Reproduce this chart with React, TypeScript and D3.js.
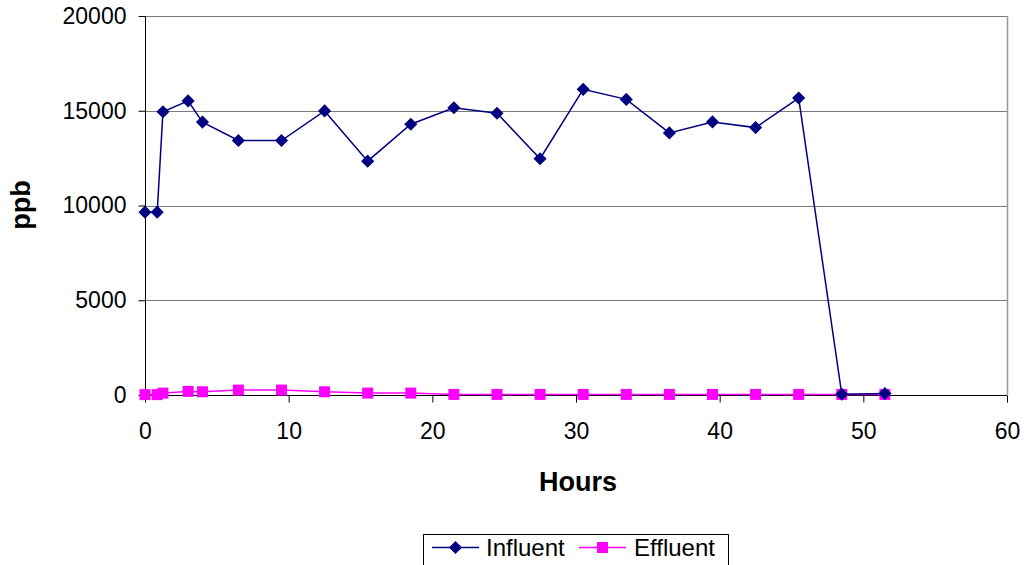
import React, { useRef, useEffect } from 'react';
import * as d3 from 'd3';

const hours = [0, 0.85, 1.25, 3, 4, 6.5, 9.5, 12.5, 15.5, 18.5, 21.5, 24.5, 27.5, 30.5, 33.5, 36.5, 39.5, 42.5, 45.5, 48.5, 51.5];
const influent = [9650, 9650, 14950, 15520, 14400, 13430, 13430, 14990, 12340, 14290, 15160, 14870, 12470, 16130, 15600, 13830, 14410, 14110, 15670, 40, 80];
const effluent = [20, 20, 100, 190, 170, 260, 260, 170, 100, 100, 30, 30, 30, 30, 30, 30, 30, 30, 30, 30, 30];
const xTicks = [0, 10, 20, 30, 40, 50, 60];
const yTicks = [0, 5000, 10000, 15000, 20000];

const FONT = '"Liberation Sans", Arial, sans-serif';

const App: React.FC = () => {
  const svgRef = useRef<SVGSVGElement>(null);

  useEffect(() => {
    const svg = d3.select(svgRef.current);
    svg.selectAll('*').remove();

    const left = 145;
    const right = 1007;
    const top = 16;
    const bottom = 395;

    const x = d3.scaleLinear().domain([0, 60]).range([left, right]);
    const y = d3.scaleLinear().domain([0, 20000]).range([bottom, top]);

    // gridlines
    svg
      .append('g')
      .selectAll('line')
      .data(yTicks.filter((d) => d > 0))
      .join('line')
      .attr('x1', left)
      .attr('x2', right)
      .attr('y1', (d) => Math.round(y(d)) + 0.5)
      .attr('y2', (d) => Math.round(y(d)) + 0.5)
      .attr('stroke', '#7a7a7a')
      .attr('stroke-width', 1);

    // right border of plot area
    svg
      .append('line')
      .attr('x1', right + 0.5)
      .attr('x2', right + 0.5)
      .attr('y1', top)
      .attr('y2', bottom)
      .attr('stroke', '#999')
      .attr('stroke-width', 1.5);

    // y axis
    const yAxis = svg
      .append('g')
      .attr('transform', `translate(${left + 0.5},0)`)
      .call(d3.axisLeft(y).tickValues(yTicks).tickSize(7).tickPadding(12).tickFormat(d3.format('d')));
    yAxis.select('.domain').attr('stroke', '#000').attr('d', `M0,${top}V${bottom}`);
    yAxis.selectAll('.tick line').attr('stroke', '#000');
    yAxis.selectAll('.tick text').attr('font-family', FONT).attr('font-size', 23).attr('fill', '#000');

    // x axis
    const xAxis = svg
      .append('g')
      .attr('transform', `translate(0,${bottom + 0.5})`)
      .call(d3.axisBottom(x).tickValues(xTicks).tickSize(7).tickPadding(20).tickFormat(d3.format('d')));
    xAxis.select('.domain').attr('stroke', '#000').attr('d', `M${left},0H${right}`);
    xAxis.selectAll('.tick line').attr('stroke', '#000');
    xAxis.selectAll('.tick text').attr('font-family', FONT).attr('font-size', 23).attr('fill', '#000');

    // axis titles
    svg
      .append('text')
      .attr('x', 578)
      .attr('y', 491)
      .attr('text-anchor', 'middle')
      .attr('font-family', FONT)
      .attr('font-weight', 'bold')
      .attr('font-size', 27)
      .text('Hours');

    svg
      .append('text')
      .attr('transform', 'translate(30,205) rotate(-90)')
      .attr('text-anchor', 'middle')
      .attr('font-family', FONT)
      .attr('font-weight', 'bold')
      .attr('font-size', 27)
      .text('ppb');

    const line = d3
      .line<number>()
      .x((_, i) => x(hours[i]))
      .y((d) => y(d));

    const diamond = d3.symbol().type(d3.symbolDiamond2).size(110);

    // effluent
    svg
      .append('path')
      .attr('d', line(effluent))
      .attr('fill', 'none')
      .attr('stroke', '#ff00ff')
      .attr('stroke-width', 1.5);
    svg
      .append('g')
      .selectAll('rect')
      .data(effluent)
      .join('rect')
      .attr('x', (_, i) => x(hours[i]) - 5.5)
      .attr('y', (d) => y(d) - 5.5)
      .attr('width', 11)
      .attr('height', 11)
      .attr('fill', '#ff00ff');

    // influent
    svg
      .append('path')
      .attr('d', line(influent))
      .attr('fill', 'none')
      .attr('stroke', '#000080')
      .attr('stroke-width', 1.5);
    svg
      .append('g')
      .selectAll('path')
      .data(influent)
      .join('path')
      .attr('d', diamond)
      .attr('transform', (d, i) => `translate(${x(hours[i])},${y(d)})`)
      .attr('fill', '#000080');

    // legend
    const lg = svg.append('g');
    lg.append('rect')
      .attr('x', 423.5)
      .attr('y', 534.5)
      .attr('width', 305)
      .attr('height', 40)
      .attr('fill', '#fff')
      .attr('stroke', '#000')
      .attr('stroke-width', 1);

    const items = [
      { name: 'Influent', color: '#000080', x0: 432, tx: 486, shape: 'diamond' },
      { name: 'Effluent', color: '#ff00ff', x0: 579, tx: 634, shape: 'square' },
    ];
    items.forEach((it) => {
      lg.append('line')
        .attr('x1', it.x0)
        .attr('x2', it.x0 + 47)
        .attr('y1', 547.5)
        .attr('y2', 547.5)
        .attr('stroke', it.color)
        .attr('stroke-width', 1.5);
      if (it.shape === 'diamond') {
        lg.append('path')
          .attr('d', diamond)
          .attr('transform', `translate(${it.x0 + 23.5},547.5)`)
          .attr('fill', it.color);
      } else {
        lg.append('rect')
          .attr('x', it.x0 + 18)
          .attr('y', 542)
          .attr('width', 11)
          .attr('height', 11)
          .attr('fill', it.color);
      }
      lg.append('text')
        .attr('x', it.tx)
        .attr('y', 556)
        .attr('font-family', FONT)
        .attr('font-size', 24)
        .text(it.name);
    });
  }, []);

  return (
    <svg
      ref={svgRef}
      width={1028}
      height={565}
      style={{ position: 'absolute', left: 0, top: 0, background: '#fff' }}
    />
  );
};

export default App;
